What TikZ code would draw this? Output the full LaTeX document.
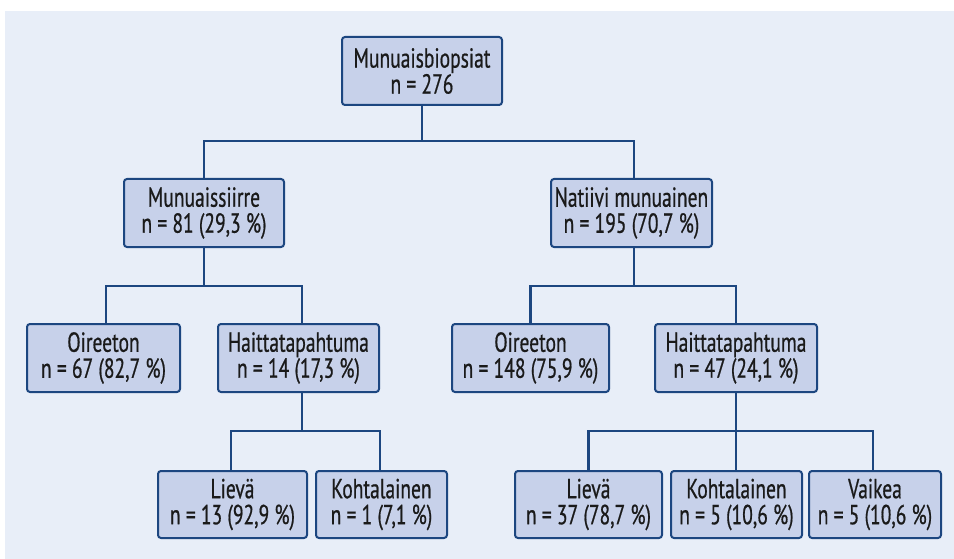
\documentclass[tikz,border=0pt]{standalone}
\usepackage{fontspec}
\setmainfont[FakeStretch=0.71,FakeBold=0.6]{PT Sans}
\definecolor{bgblue}{HTML}{E8EEF8}
\definecolor{boxfill}{HTML}{C7D1EA}
\definecolor{navy}{HTML}{1C4680}
\definecolor{txt}{HTML}{1A1A1A}
\begin{document}
\begin{tikzpicture}[x=1pt,y=-1pt,
  box/.style={draw=navy,fill=boxfill,line width=2pt,rounded corners=3pt,
    minimum height=68pt,inner sep=0pt,align=center,text=txt,
    font=\fontsize{27.5}{26}\selectfont},
  conn/.style={draw=navy,line width=2.4pt}]
\fill[white] (0,0) rectangle (954,559);
\fill[bgblue] (5,11) rectangle (954,559);
\useasboundingbox (0,0) rectangle (954,559);
% level 0
\node[box,minimum width=160pt] (root) at (422,71) {Munuaisbiopsiat\\n = 276};
% level 1
\node[box,minimum width=160pt] (mun) at (204,213) {Munuaissiirre\\n = 81 (29,3 \%)};
\node[box,minimum width=161pt] (nat) at (631.5,213) {Natiivi munuainen\\n = 195 (70,7 \%)};
% level 2
\node[box,minimum width=153pt] (oir1) at (103.5,358) {Oireeton\\n = 67 (82,7 \%)};
\node[box,minimum width=161pt] (hai1) at (298.5,358) {Haittatapahtuma\\n = 14 (17,3 \%)};
\node[box,minimum width=157pt] (oir2) at (530.5,358) {Oireeton\\n = 148 (75,9 \%)};
\node[box,minimum width=162pt] (hai2) at (736,358) {Haittatapahtuma\\n = 47 (24,1 \%)};
% level 3
\node[box,minimum width=149pt,minimum height=67pt] (lie1) at (232.5,504.5) {Lievä\\n = 13 (92,9 \%)};
\node[box,minimum width=131pt,minimum height=67pt] (koh1) at (381.5,504.5) {Kohtalainen\\n = 1 (7,1 \%)};
\node[box,minimum width=147pt,minimum height=67pt] (lie2) at (588.5,504.5) {Lievä\\n = 37 (78,7 \%)};
\node[box,minimum width=131pt,minimum height=67pt] (koh2) at (736.5,504.5) {Kohtalainen\\n = 5 (10,6 \%)};
\node[box,minimum width=132pt,minimum height=67pt] (vai) at (875,504.5) {Vaikea\\n = 5 (10,6 \%)};
% connectors
\coordinate (j0) at (422,141);
\coordinate (j1) at (204,286);
\coordinate (j2) at (634,286);
\coordinate (j3) at (302,431);
\coordinate (j4) at (736,431);
\draw[conn] (root.south) -- (j0);
\draw[conn] (j0) -| (mun.north);
\draw[conn] (j0) -| ([xshift=2.5pt]nat.north);
\draw[conn] (mun.south) -- (j1);
\draw[conn] (j1) -| ([xshift=2.5pt]oir1.north);
\draw[conn] (j1) -| ([xshift=3.5pt]hai1.north);
\draw[conn] ([xshift=2.5pt]nat.south) -- (j2);
\draw[conn] (j2) -| (oir2.north);
\draw[conn] (j2) -| (hai2.north);
\draw[conn] ([xshift=3.5pt]hai1.south) -- (j3);
\draw[conn] (j3) -| ([xshift=-1.5pt]lie1.north);
\draw[conn] (j3) -| ([xshift=-1.5pt]koh1.north);
\draw[conn] (hai2.south) -- (j4);
\draw[conn] (j4) -| (lie2.north);
\draw[conn] (j4) -- ([xshift=-0.5pt]koh2.north);
\draw[conn] (j4) -| ([xshift=-2pt]vai.north);
\end{tikzpicture}
\end{document}
